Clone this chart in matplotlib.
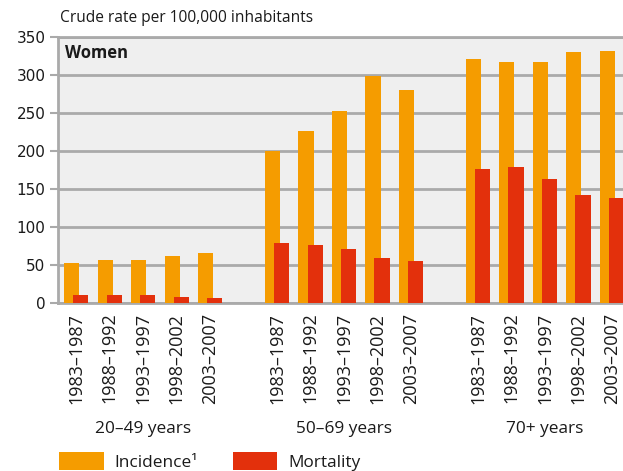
import matplotlib
matplotlib.use("Agg")
import matplotlib.pyplot as plt
from matplotlib.patches import Patch

plt.rcParams['font.family'] = ['Open Sans', 'DejaVu Sans']

age_groups = ["20–49 years", "50–69 years", "70+ years"]
periods = ["1983–1987", "1988–1992", "1993–1997", "1998–2002", "2003–2007"]

incidence = [
    [53, 56, 56, 62, 66],
    [200, 226, 253, 299, 280],
    [321, 317, 317, 330, 332],
]
mortality = [
    [11, 11, 11, 8, 7],
    [79, 76, 71, 59, 55],
    [176, 179, 163, 142, 138],
]

ORANGE = "#F59C00"
RED = "#E3300C"
GRID = "#AAAAAA"
TEXT = "#1a1a1a"

fig = plt.figure(figsize=(6.23, 4.71), dpi=100)
ax = fig.add_axes([58 / 623, 168 / 471, 565 / 623, 266 / 471])
ax.set_facecolor("#EFEFEF")

bar_w = 0.45
offset = 0.27
group_step = 6

tick_pos, tick_lab = [], []
for g in range(len(age_groups)):
    for i in range(len(periods)):
        p = g * group_step + i
        ax.bar(p, incidence[g][i], width=bar_w, align='edge', color=ORANGE, zorder=3)
        ax.bar(p + offset, mortality[g][i], width=bar_w, align='edge', color=RED, zorder=4)
        tick_pos.append(p + 0.36)
        tick_lab.append(periods[i])
    center = g * group_step + 2 + 0.36
    ax.text(center, -166, age_groups[g], ha='center', va='center', fontsize=12.4,
            color=TEXT, clip_on=False)

ax.set_xlim(-0.18, 16.69)
ax.set_ylim(0, 350)
ax.set_yticks(range(0, 351, 50))
ax.set_xticks(tick_pos)
ax.set_xticklabels(tick_lab, rotation=90, fontsize=13, color=TEXT)
ax.tick_params(axis='x', length=0, pad=7)
ax.tick_params(axis='y', length=6, width=1.5, color=GRID, labelsize=11,
               labelcolor=TEXT, pad=3)
for lab in ax.get_yticklabels():
    lab.set_fontfamily('DejaVu Sans')

ax.yaxis.grid(True, color=GRID, linewidth=2, zorder=1)
ax.set_axisbelow(True)
ax.spines['right'].set_visible(False)
for side in ['left', 'bottom', 'top']:
    ax.spines[side].set_color(GRID)
    ax.spines[side].set_linewidth(2)

ax.text(0.013, 0.975, "Women", transform=ax.transAxes, fontsize=12, fontweight='bold',
        ha='left', va='top', color=TEXT)
fig.text(60 / 623, 1 - 18 / 471, "Crude rate per 100,000 inhabitants", fontsize=11.2,
         ha='left', va='center', color=TEXT)

handles = [Patch(facecolor=ORANGE), Patch(facecolor=RED)]
fig.legend(handles, ["Incidence¹", "Mortality"], loc='lower left',
           bbox_to_anchor=(59 / 623, 0), ncol=2, frameon=False, borderpad=0,
           fontsize=12.4, handlelength=2.6, handleheight=1.22, handletextpad=0.64,
           columnspacing=2.0, borderaxespad=0, labelcolor=TEXT)

fig.savefig("out.png", dpi=100)
